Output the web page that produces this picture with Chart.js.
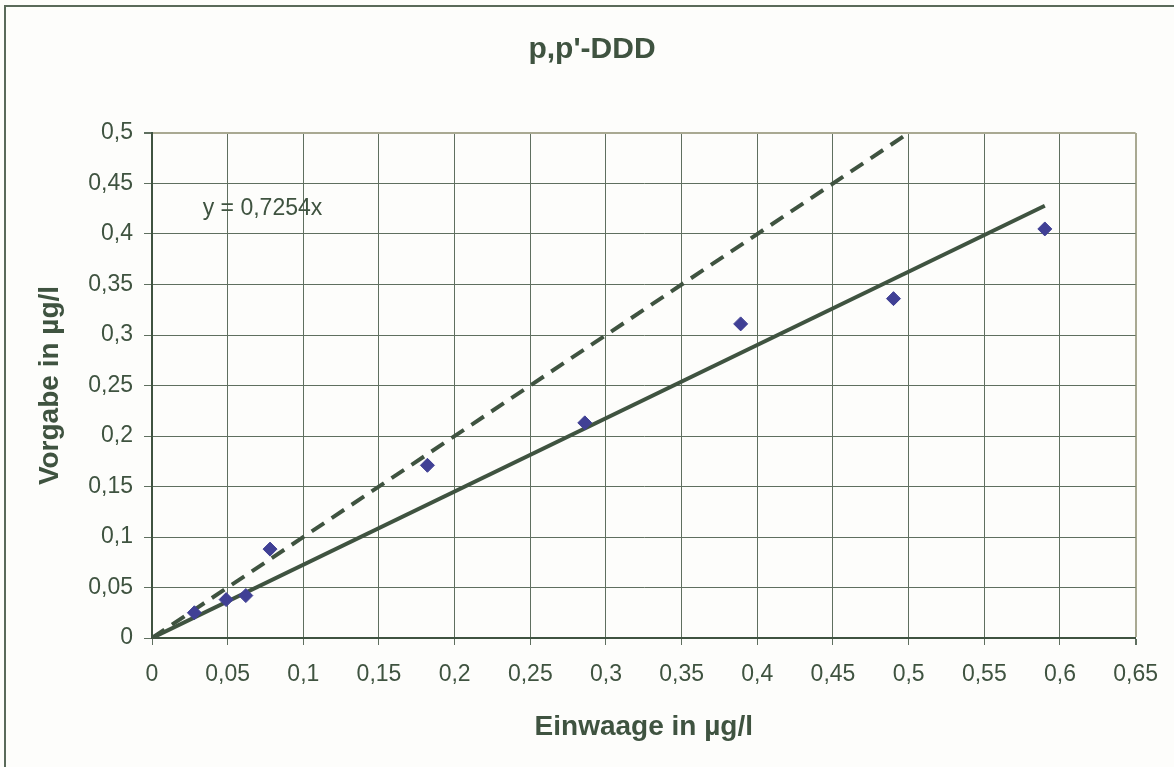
<!DOCTYPE html>
<html>
<head>
<meta charset="utf-8">
<script src="https://cdn.jsdelivr.net/npm/chart.js@4"></script>
<style>
  html, body { margin: 0; padding: 0; background: #fdfdfb; }
  #wrap { position: relative; width: 1174px; height: 767px; }
</style>
</head>
<body>
<div id="wrap"><canvas id="chart" width="1174" height="767"></canvas></div>
<script>
// values
var einwaage = [0.028, 0.049, 0.062, 0.078, 0.182, 0.286, 0.389, 0.490, 0.590];
var vorgabe  = [0.025, 0.038, 0.042, 0.088, 0.171, 0.213, 0.311, 0.336, 0.405];

// trend line y = 0,7254x (end points as drawn)
var trendX = [0, 0.59];
var trendY = [0, 0.428];

// 1:1 line (dashed)
var idealX = [0, 0.5];
var idealY = [0, 0.5];

var titel = "p,p'-DDD";
var gleichung = "y = 0,7254x";
var xTitel = "Einwaage in µg/l";
var yTitel = "Vorgabe in µg/l";

var ink = '#3f5340';
var gridCol = '#5f6f5f';
var frameCol = '#a9a992';
var schrift = '"Liberation Sans", Arial, sans-serif';

function pts(xs, ys) {
    return xs.map(function(x, i){ return {x: x, y: ys[i]}; });
}
function komma(v) {
    return String(Math.round(v * 100) / 100).replace('.', ',');
}

var background = {
    id: 'background',
    beforeDraw: function(chart) {
        var c = chart.ctx;
        c.save();
        c.fillStyle = '#fdfdfb';
        c.fillRect(0, 0, chart.width, chart.height);
        c.strokeStyle = '#5a6a5a';
        c.lineWidth = 2;
        c.beginPath();
        c.moveTo(5, chart.height);
        c.lineTo(5, 6);
        c.lineTo(chart.width, 6);
        c.stroke();
        // title, centred like the reference
        c.fillStyle = ink;
        c.font = 'bold 30px ' + schrift;
        c.textAlign = 'center';
        c.textBaseline = 'middle';
        c.fillText(titel, 592, 50);
        c.restore();
    },
    afterDatasetsDraw: function(chart) {
        var c = chart.ctx;
        var xs = chart.scales.x, ys = chart.scales.y;
        c.save();
        c.fillStyle = ink;
        c.font = '23px ' + schrift;
        c.textAlign = 'left';
        c.textBaseline = 'middle';
        c.fillText(gleichung, xs.getPixelForValue(0.0335), ys.getPixelForValue(0.425));
        c.restore();
    }
};

var ctx = document.getElementById('chart');
new Chart(ctx, {
    type: 'scatter',
    data: {
        datasets: [{
            label: 'Messwerte',
            data: pts(einwaage, vorgabe),
            pointStyle: 'rectRot',
            pointRadius: 7,
            pointBackgroundColor: '#404095',
            pointBorderColor: '#404095',
            pointBorderWidth: 1,
            showLine: false,
            order: 0
        }, {
            label: 'Trend',
            data: pts(trendX, trendY),
            showLine: true,
            borderColor: ink,
            borderWidth: 4,
            pointRadius: 0,
            order: 1
        }, {
            label: 'Soll',
            data: pts(idealX, idealY),
            showLine: true,
            borderColor: ink,
            borderWidth: 4,
            borderDash: [15, 9],
            pointRadius: 0,
            order: 2
        }]
    },
    options: {
        responsive: false,
        animation: false,
        devicePixelRatio: 1,
        layout: { padding: { left: 0, top: 133, right: 38, bottom: 0 } },
        plugins: {
            legend: { display: false },
            tooltip: { enabled: false },
            title: { display: false }
        },
        scales: {
            x: {
                type: 'linear',
                min: 0,
                max: 0.65,
                afterFit: function(s) { s.height = 129; },
                ticks: {
                    stepSize: 0.05,
                    autoSkip: false,
                    maxRotation: 0,
                    color: ink,
                    padding: 16,
                    font: { family: schrift, size: 23 },
                    callback: function(v) { return komma(v); }
                },
                grid: {
                    color: function(c) { return c.tick && Math.abs(c.tick.value - 0.65) < 1e-6 ? frameCol : gridCol; },
                    lineWidth: function(c) { return c.tick && Math.abs(c.tick.value - 0.65) < 1e-6 ? 2 : 1; },
                    tickLength: 7,
                    tickColor: gridCol
                },
                border: { display: true, color: ink, width: 2 },
                title: {
                    display: true,
                    text: xTitel,
                    color: ink,
                    font: { family: schrift, size: 28, weight: 'bold', lineHeight: 1.2 },
                    padding: { top: 0, bottom: 23 }
                }
            },
            y: {
                type: 'linear',
                min: 0,
                max: 0.5,
                afterFit: function(s) { s.width = 152; },
                ticks: {
                    stepSize: 0.05,
                    color: ink,
                    padding: 11,
                    font: { family: schrift, size: 23 },
                    callback: function(v) { return komma(v); }
                },
                grid: {
                    color: function(c) { return c.tick && Math.abs(c.tick.value - 0.5) < 1e-6 ? frameCol : gridCol; },
                    lineWidth: function(c) { return c.tick && Math.abs(c.tick.value - 0.5) < 1e-6 ? 2 : 1; },
                    tickLength: 8,
                    tickColor: gridCol
                },
                border: { display: true, color: ink, width: 2 },
                title: {
                    display: true,
                    text: yTitel,
                    color: ink,
                    font: { family: schrift, size: 28, weight: 'bold', lineHeight: 1.2 },
                    padding: { top: 33, bottom: 0 }
                }
            }
        }
    },
    plugins: [background]
});
</script>
</body>
</html>
